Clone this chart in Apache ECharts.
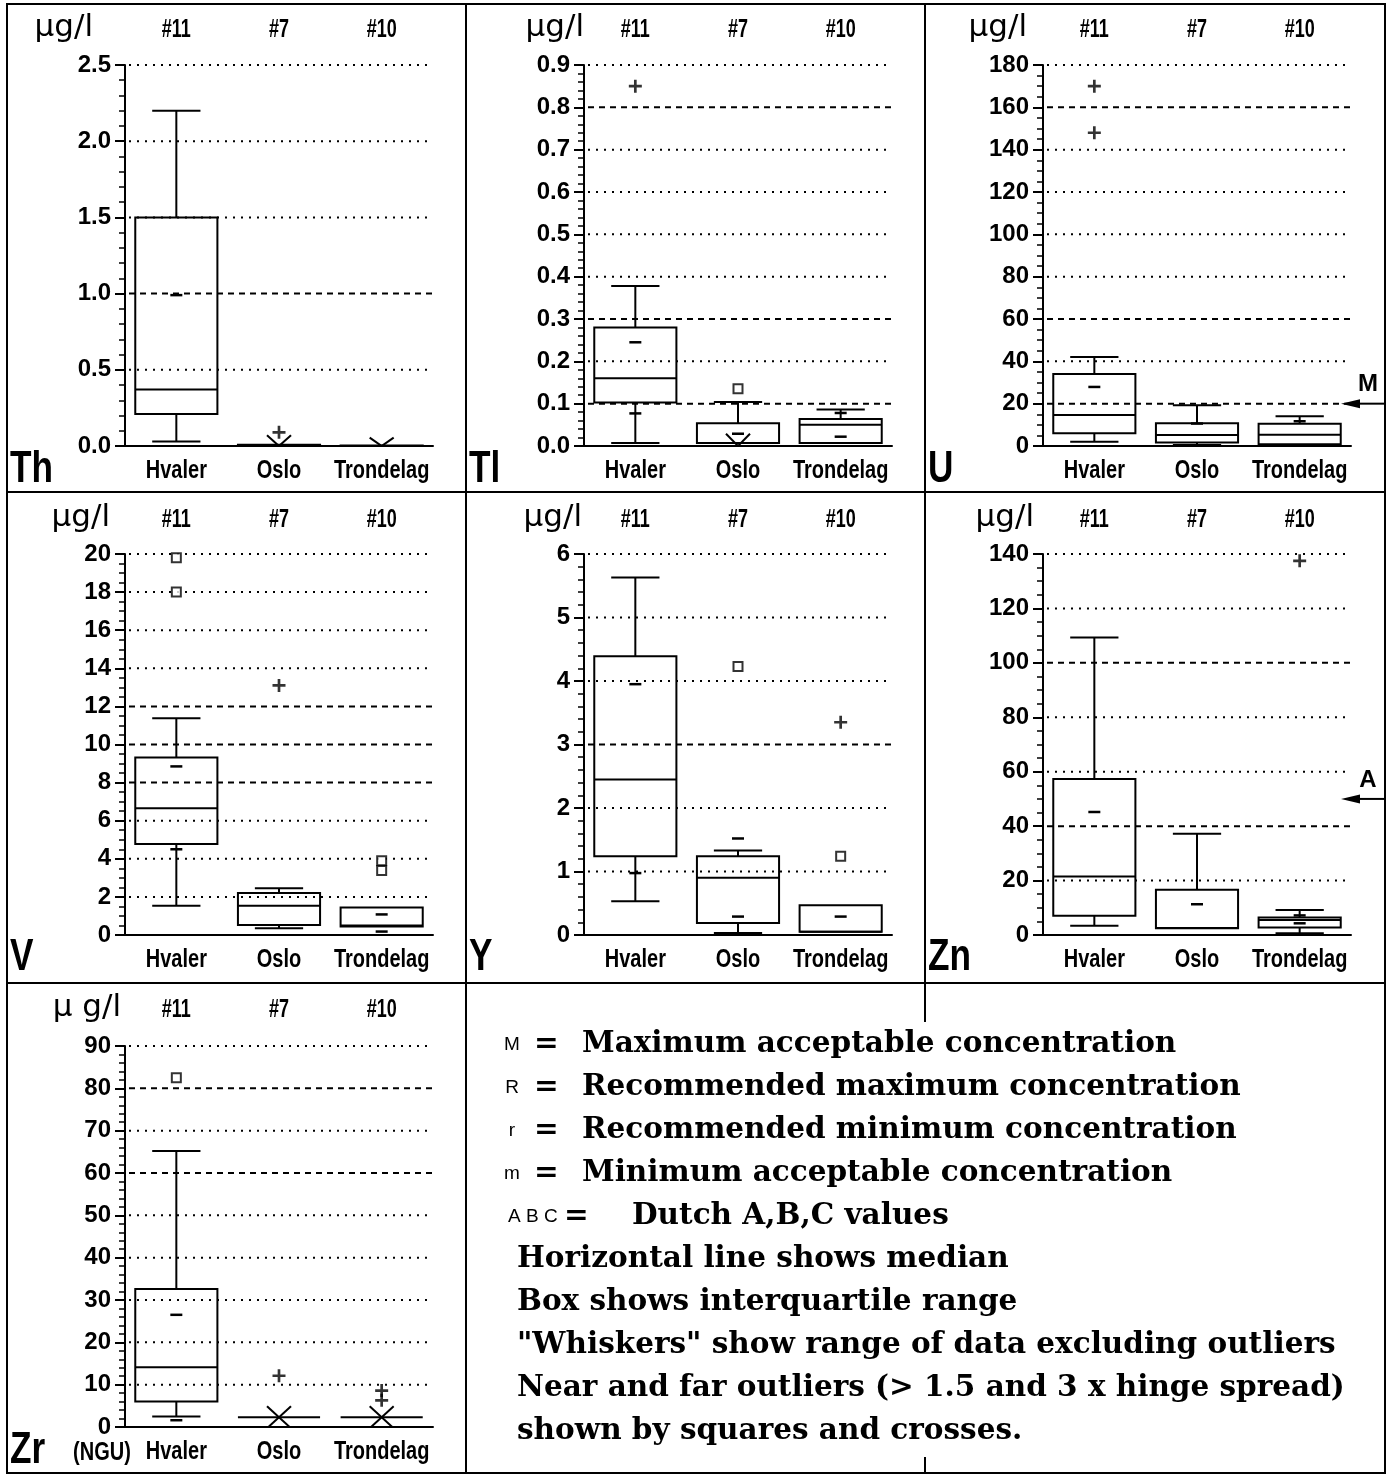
<!DOCTYPE html>
<html>
<head>
<meta charset="utf-8">
<title>Trace elements in groundwater – Hvaler, Oslo, Trondelag</title>
<script src="https://cdn.jsdelivr.net/npm/echarts@6/dist/echarts.min.js"></script>
<style>
  html, body { margin: 0; padding: 0; background: #fff; }
  #chart { width: 1394px; height: 1476px; }
</style>
</head>
<body>
<div id="chart"></div>
<script>
// ---- shared categories ----
const sites = ['Hvaler', 'Oslo', 'Trondelag'];
const sampleCounts = ['#11', '#7', '#10'];

// ---- Th ----  boxes: [min, lower hinge, median, upper hinge, max]
const thTicks = ['0.0', '0.5', '1.0', '1.5', '2.0', '2.5'];
const thBoxes = [[0.03, 0.21, 0.37, 1.5, 2.2], [0, 0, 0.004, 0.008, 0.008], [0, 0, 0, 0.004, 0.004]];
const thNotches = [[0, 0.99]];
const thNear = [];
const thFar = [[1, 0.09]];
const thFolds = [[1, 0.07, -0.07], [2, 0.055, -0.055]];
const thGuides = [1.0];

// ---- Tl ----
const tlTicks = ['0.0', '0.1', '0.2', '0.3', '0.4', '0.5', '0.6', '0.7', '0.8', '0.9'];
const tlBoxes = [[0.007, 0.103, 0.16, 0.28, 0.378], [0.007, 0.007, 0.007, 0.054, 0.104], [0.007, 0.007, 0.05, 0.064, 0.086]];
const tlNotches = [[0, 0.077], [0, 0.245], [1, 0.029], [2, 0.022], [2, 0.078]];
const tlNear = [[1, 0.135]];
const tlFar = [[0, 0.85]];
const tlFolds = [[1, 0.029, -0.029]];
const tlGuides = [0.8, 0.3, 0.1];

// ---- U ----
const uTicks = ['0', '20', '40', '60', '80', '100', '120', '140', '160', '180'];
const uBoxes = [[2.0, 6.0, 14.6, 34, 42], [0.5, 1.6, 5.2, 10.8, 19.3], [0.8, 0.8, 5.3, 10.5, 14.1]];
const uNotches = [[0, 27.9], [1, 10.6], [2, 11.7]];
const uNear = [];
const uFar = [[0, 170], [0, 148]];
const uFolds = [];
const uGuides = [160, 60, 20];
const uLimits = [['M', 20]];

// ---- V ----
const vTicks = ['0', '2', '4', '6', '8', '10', '12', '14', '16', '18', '20'];
const vBoxes = [[1.53, 4.78, 6.65, 9.32, 11.38], [0.35, 0.53, 1.53, 2.2, 2.46], [0.44, 0.44, 0.5, 1.44, 1.44]];
const vNotches = [[0, 4.5], [0, 8.85], [2, 0.18], [2, 1.08]];
const vNear = [[0, 19.8], [0, 18.0], [2, 3.9], [2, 3.38]];
const vFar = [[1, 13.1]];
const vFolds = [];
const vGuides = [12, 10, 8];

// ---- Y ----
const yTicks = ['0', '1', '2', '3', '4', '5', '6'];
const yBoxes = [[0.53, 1.24, 2.45, 4.39, 5.63], [0.03, 0.19, 0.9, 1.24, 1.33], [0.05, 0.05, 0.05, 0.47, 0.47]];
const yNotches = [[0, 0.975], [0, 3.95], [1, 0.29], [1, 1.52], [2, 0.29]];
const yNear = [[1, 4.23], [2, 1.24]];
const yFar = [[2, 3.35]];
const yFolds = [];
const yGuides = [3];

// ---- Zn ----
const znTicks = ['0', '20', '40', '60', '80', '100', '120', '140'];
const znBoxes = [[3.4, 7.1, 21.5, 57.3, 109.3], [2.5, 2.5, 2.6, 16.6, 37.2], [0.6, 2.8, 5.5, 6.4, 9.2]];
const znNotches = [[0, 45.2], [1, 11.3], [2, 4.3], [2, 7.2]];
const znNear = [];
const znFar = [[2, 137.5]];
const znFolds = [];
const znGuides = [100, 40];
const znLimits = [['A', 50]];

// ---- Zr ----
const zrTicks = ['0', '10', '20', '30', '40', '50', '60', '70', '80', '90'];
const zrBoxes = [[2.5, 6.05, 14.1, 32.6, 65.2], [2.3, 2.3, 2.3, 2.3, 2.3], [2.3, 2.3, 2.3, 2.3, 2.3]];
const zrNotches = [[0, 1.6], [0, 26.5]];
const zrNear = [[0, 82.5]];
const zrFar = [[1, 12.1], [2, 8.6], [2, 6.3]];
const zrFolds = [[1, 4.9, -0.3], [2, 4.9, -0.3]];
const zrGuides = [80, 60];

// ---- legend text ----
const legendKeys = ['M', 'R', 'r', 'm', 'A B C'];
const legendLines = [
  'Maximum acceptable concentration',
  'Recommended maximum concentration',
  'Recommended minimum concentration',
  'Minimum acceptable concentration',
  'Dutch A,B,C values',
  'Horizontal line shows median',
  'Box shows interquartile range',
  '"Whiskers" show range of data excluding outliers',
  'Near and far outliers (> 1.5 and 3 x hinge spread)',
  'shown by squares and crosses.'
];

const panels = [
  { sym: 'Th', unit: 'µg/l', ticks: thTicks, minor: 5, boxes: thBoxes, notches: thNotches, near: thNear, far: thFar, folds: thFolds, guides: thGuides, limits: [] },
  { sym: 'Tl', unit: 'µg/l', ticks: tlTicks, minor: 5, boxes: tlBoxes, notches: tlNotches, near: tlNear, far: tlFar, folds: tlFolds, guides: tlGuides, limits: [] },
  { sym: 'U',  unit: 'µg/l', ticks: uTicks,  minor: 4, boxes: uBoxes,  notches: uNotches,  near: uNear,  far: uFar,  folds: uFolds,  guides: uGuides,  limits: uLimits },
  { sym: 'V',  unit: 'µg/l', ticks: vTicks,  minor: 4, boxes: vBoxes,  notches: vNotches,  near: vNear,  far: vFar,  folds: vFolds,  guides: vGuides,  limits: [] },
  { sym: 'Y',  unit: 'µg/l', ticks: yTicks,  minor: 5, boxes: yBoxes,  notches: yNotches,  near: yNear,  far: yFar,  folds: yFolds,  guides: yGuides,  limits: [] },
  { sym: 'Zn', unit: 'µg/l', ticks: znTicks, minor: 4, boxes: znBoxes, notches: znNotches, near: znNear, far: znFar, folds: znFolds, guides: znGuides, limits: znLimits },
  { sym: 'Zr', unit: 'µ g/l', ticks: zrTicks, minor: 5, boxes: zrBoxes, notches: zrNotches, near: zrNear, far: zrFar, folds: zrFolds, guides: zrGuides, limits: [] }
];

// ---- layout ----
const FONT_SANS = '"Liberation Sans", Arial, sans-serif';
const FONT_SERIF = '"DejaVu Serif", serif';
const FONT_UNIT = '"DejaVu Sans", sans-serif';
const NARROW = 0.8;              // horizontal squeeze for the condensed panel lettering
const gridLeft = [125, 584, 1043];
const gridTop = [65, 554, 1046];
const gridW = 308, gridH = 381;
const cellX = [7, 466, 925, 1385];
const cellY = [4, 492, 983, 1473];
const unitShift = [-32, 0, -16, -15, -2, -9, -4];

const ink = '#000';
const line = (x1, y1, x2, y2, w) => ({ type: 'line', shape: { x1, y1, x2, y2 }, style: { stroke: ink, lineWidth: w || 2 } });

function renderBox(params, api) {
  const cat = api.value(0);
  const band = api.size([1, 0])[0];
  const cx = api.coord([cat, 0])[0];
  const v = [1, 2, 3, 4, 5].map(k => api.value(k));
  const y = v.map(val => api.coord([cat, val])[1]);
  const bw = band * 0.8, cw = band * 0.47;
  const kids = [];
  if (v[3] > v[1]) {
    kids.push({ type: 'rect', shape: { x: cx - bw / 2, y: y[3], width: bw, height: y[1] - y[3] },
      style: { stroke: ink, lineWidth: 2, fill: 'rgba(0,0,0,0)' } });
  }
  kids.push(line(cx - bw / 2, y[2], cx + bw / 2, y[2]));
  if (v[4] > v[3]) {
    kids.push(line(cx, y[3], cx, y[4]));
    kids.push(line(cx - cw / 2, y[4], cx + cw / 2, y[4]));
  }
  if (v[0] < v[1]) {
    kids.push(line(cx, y[1], cx, y[0]));
    kids.push(line(cx - cw / 2, y[0], cx + cw / 2, y[0]));
  }
  return { type: 'group', children: kids };
}

function renderNotch(params, api) {
  const p = api.coord([api.value(0), api.value(1)]);
  return { type: 'line', shape: { x1: p[0] - 6, y1: p[1], x2: p[0] + 6, y2: p[1] }, style: { stroke: ink, lineWidth: 2.5 } };
}

function renderFold(params, api) {
  const cat = api.value(0);
  const top = api.coord([cat, api.value(1)]);
  const bot = api.coord([cat, api.value(2)]);
  const hw = 12;
  return { type: 'group', children: [
    line(top[0] - hw, top[1], bot[0] + hw, bot[1]),
    line(top[0] + hw, top[1], bot[0] - hw, bot[1])
  ] };
}

function renderGuide(params, api) {
  const cs = params.coordSys;
  const yy = api.coord([0, api.value(1)])[1];
  const dashed = api.value(2) === 1;
  return { type: 'line', shape: { x1: cs.x + 4, y1: yy, x2: cs.x + cs.width, y2: yy },
    style: { stroke: ink, lineWidth: 2, lineDash: dashed ? [6, 5] : [2, 6] } };
}

const plusPath = 'path://M5,0h2.6v5h5v2.6h-5v5h-2.6v-5h-5v-2.6h5z';

const option = { animation: false, backgroundColor: '#fff', grid: [], xAxis: [], yAxis: [], series: [] };

panels.forEach((p, i) => {
  const col = i % 3, row = Math.floor(i / 3);
  const tv = p.ticks.map(Number);
  const lo = tv[0], hi = tv[tv.length - 1];
  const step = +(tv[1] - tv[0]).toFixed(6);
  option.grid.push({ left: gridLeft[col], top: gridTop[row], width: gridW, height: gridH });
  option.xAxis.push({
    type: 'category', gridIndex: i, data: sites, boundaryGap: true,
    axisLine: { lineStyle: { color: ink, width: 2 } },
    axisTick: { show: false },
    axisLabel: { show: false },
    splitLine: { show: false }
  });
  option.yAxis.push({
    type: 'value', gridIndex: i, min: lo, max: hi, interval: step,
    axisLine: { show: true, lineStyle: { color: ink, width: 2 } },
    axisTick: { show: true, length: 10, lineStyle: { color: ink, width: 2 } },
    minorTick: { show: true, splitNumber: p.minor, length: 6, lineStyle: { color: ink, width: 1.5 } },
    splitLine: { show: false },
    axisLabel: {
      color: ink, fontFamily: FONT_SANS, fontWeight: 'bold', fontSize: 24, margin: 14,
      formatter: val => { const k = Math.round((val - lo) / step); return p.ticks[k] !== undefined ? p.ticks[k] : ''; }
    }
  });
  const base = { xAxisIndex: i, yAxisIndex: i, silent: true };
  option.series.push(Object.assign({
    type: 'custom', renderItem: renderGuide, z: 1,
    encode: { x: 0, y: 1 },
    data: tv.slice(1).map(t => [0, t, p.guides.indexOf(t) >= 0 ? 1 : 0])
  }, base));
  option.series.push(Object.assign({
    type: 'custom', renderItem: renderBox, z: 3,
    encode: { x: 0, y: [1, 2, 3, 4, 5] },
    data: p.boxes.map((b, k) => [k].concat(b))
  }, base));
  option.series.push(Object.assign({
    type: 'custom', renderItem: renderNotch, z: 4, encode: { x: 0, y: 1 }, data: p.notches
  }, base));
  option.series.push(Object.assign({
    type: 'custom', renderItem: renderFold, z: 4, clip: true, encode: { x: 0, y: [1, 2] }, data: p.folds
  }, base));
  option.series.push(Object.assign({
    type: 'scatter', symbol: 'rect', symbolSize: 9, z: 5,
    itemStyle: { color: '#fff', borderColor: ink, borderWidth: 2 }, data: p.near
  }, base));
  option.series.push(Object.assign({
    type: 'scatter', symbol: plusPath, symbolSize: 13, z: 5,
    itemStyle: { color: ink }, data: p.far
  }, base));
});

const chart = echarts.init(document.getElementById('chart'), null, { renderer: 'canvas' });
chart.setOption(option);

// ---- frame, panel lettering, limit arrows and legend ----
const gfx = [];
const txt = (text, x, y, font, align, sx) => ({
  type: 'text', x, y, silent: true, scaleX: sx || 1,
  style: { text, font, fill: ink, textAlign: align || 'left', textVerticalAlign: 'middle' }
});

gfx.push({ type: 'rect', shape: { x: cellX[0], y: cellY[0], width: cellX[3] - cellX[0], height: cellY[3] - cellY[0] },
  style: { stroke: ink, lineWidth: 2, fill: 'rgba(0,0,0,0)' } });
gfx.push(line(cellX[1], cellY[0], cellX[1], cellY[3]));
gfx.push(line(cellX[2], cellY[0], cellX[2], cellY[2]));
gfx.push(line(cellX[2], cellY[2], cellX[2], cellY[2] + 39));
gfx.push(line(cellX[2], cellY[3] - 16, cellX[2], cellY[3]));
gfx.push(line(cellX[0], cellY[1], cellX[3], cellY[1]));
gfx.push(line(cellX[0], cellY[2], cellX[3], cellY[2]));

const headY = [30, 520, 1010];
const symY = [470, 958, 1451];
const catFont = 'bold 25px ' + FONT_SANS;

panels.forEach((p, i) => {
  const col = i % 3, row = Math.floor(i / 3);
  const lo = Number(p.ticks[0]);
  sites.forEach((s, k) => {
    const px = chart.convertToPixel({ gridIndex: i }, [k, lo]);
    gfx.push(txt(sampleCounts[k], px[0], headY[row], 'bold 25px ' + FONT_SANS, 'center', 0.72));
    gfx.push(txt(s, px[0], px[1] + 25, catFont, 'center', NARROW));
  });
  gfx.push(txt(p.unit, gridLeft[col] + unitShift[i], headY[row] - 2, '31px ' + FONT_UNIT, 'right'));
  gfx.push(txt(p.sym, cellX[col] + 3, symY[row], 'bold 44px ' + FONT_SANS, 'left', NARROW));
  p.limits.forEach(([label, value]) => {
    const py = chart.convertToPixel({ gridIndex: i }, [0, value])[1];
    const tip = 1341, right = cellX[3];
    gfx.push({ type: 'polygon', silent: true, shape: { points: [[tip, py], [tip + 19, py - 4.5], [tip + 19, py + 4.5]] }, style: { fill: ink } });
    gfx.push(line(tip + 17, py, right, py));
    gfx.push(txt(label, 1368, py - 19, 'bold 24px ' + FONT_SANS, 'center'));
  });
});
gfx.push(txt('(NGU)', 102, 1453, catFont, 'center', NARROW));

// legend block
const legY0 = 1044, legStep = 43;
const serif = 'bold 29.5px ' + FONT_SERIF;
legendLines.forEach((t, k) => {
  const yy = legY0 + k * legStep;
  if (k < 4) {
    gfx.push(txt(legendKeys[k], 512, yy + 1, '19px ' + FONT_SANS, 'center'));
    gfx.push(txt('=', 534, yy, serif, 'left'));
    gfx.push(txt(t, 582, yy, serif, 'left'));
  } else if (k === 4) {
    gfx.push(txt(legendKeys[k], 508, yy + 1, '19px ' + FONT_SANS, 'left'));
    gfx.push(txt('=', 564, yy, serif, 'left'));
    gfx.push(txt(t, 632, yy, serif, 'left'));
  } else {
    gfx.push(txt(t, 517, yy, serif, 'left'));
  }
});

chart.setOption({ graphic: { elements: gfx } });
</script>
</body>
</html>
